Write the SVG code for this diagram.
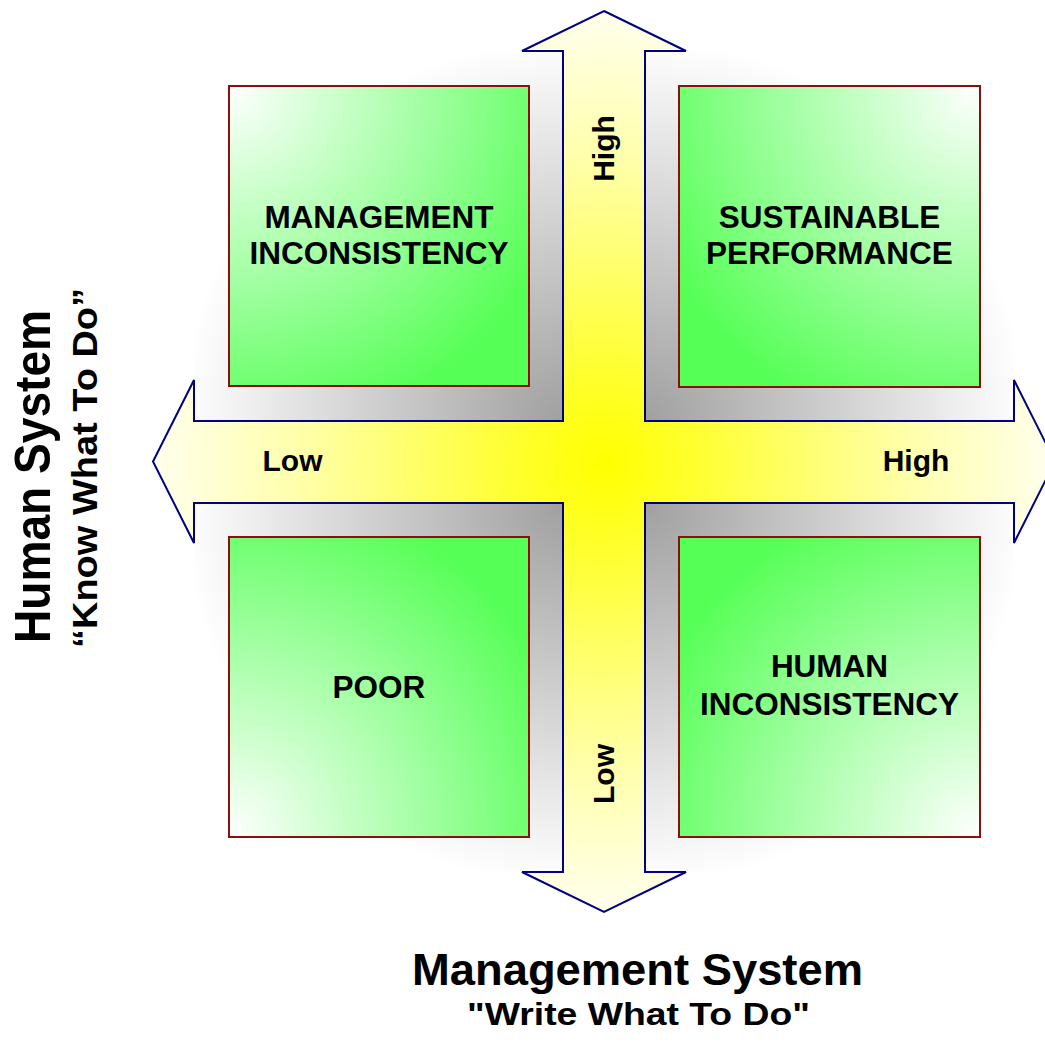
<svg xmlns="http://www.w3.org/2000/svg" width="1045" height="1043" viewBox="0 0 1045 1043">
  <style>
    .lbl { font-family: "Liberation Sans", Arial, Helvetica, sans-serif; font-weight: bold; fill: #000; }
    .box { stroke: #8b0f0f; stroke-width: 2; }
    .axis { stroke: #000080; stroke-width: 2; stroke-linejoin: miter; }
  </style>
  <defs>
    <!-- yellow glow spreading out from the crossing point -->
    <radialGradient id="axisFill" gradientUnits="userSpaceOnUse" cx="604" cy="462" r="460">
      <stop offset="0" stop-color="#ffff00"/>
      <stop offset="0.2" stop-color="#ffff30"/>
      <stop offset="0.65" stop-color="#ffffa8"/>
      <stop offset="1" stop-color="#fffff2"/>
    </radialGradient>
    <!-- grey shading in the corners next to the axes -->
    <radialGradient id="shTL" gradientUnits="userSpaceOnUse" cx="563" cy="421" r="380">
      <stop offset="0" stop-color="#a0a0a0"/>
      <stop offset="1" stop-color="#ffffff"/>
    </radialGradient>
    <radialGradient id="shTR" gradientUnits="userSpaceOnUse" cx="645" cy="421" r="380">
      <stop offset="0" stop-color="#a0a0a0"/>
      <stop offset="1" stop-color="#ffffff"/>
    </radialGradient>
    <radialGradient id="shBL" gradientUnits="userSpaceOnUse" cx="563" cy="503" r="380">
      <stop offset="0" stop-color="#a0a0a0"/>
      <stop offset="1" stop-color="#ffffff"/>
    </radialGradient>
    <radialGradient id="shBR" gradientUnits="userSpaceOnUse" cx="645" cy="503" r="380">
      <stop offset="0" stop-color="#a0a0a0"/>
      <stop offset="1" stop-color="#ffffff"/>
    </radialGradient>
    <!-- quadrant fills: pale at the outer corner, saturated green inward -->
    <radialGradient id="gTL" cx="0" cy="0" r="1.2">
      <stop offset="0" stop-color="#ffffff"/>
      <stop offset="1" stop-color="#55ff55"/>
    </radialGradient>
    <radialGradient id="gTR" cx="1" cy="0" r="1.2">
      <stop offset="0" stop-color="#ffffff"/>
      <stop offset="1" stop-color="#55ff55"/>
    </radialGradient>
    <radialGradient id="gBL" cx="0" cy="1" r="1.2">
      <stop offset="0" stop-color="#ffffff"/>
      <stop offset="1" stop-color="#55ff55"/>
    </radialGradient>
    <radialGradient id="gBR" cx="1" cy="1" r="1.2">
      <stop offset="0" stop-color="#ffffff"/>
      <stop offset="1" stop-color="#55ff55"/>
    </radialGradient>
  </defs>

  <rect width="1045" height="1043" fill="#ffffff"/>

  <!-- corner shading -->
  <g id="shading">
    <rect x="194" y="51" width="369" height="370" fill="url(#shTL)"/>
    <rect x="645" y="51" width="369" height="370" fill="url(#shTR)"/>
    <rect x="194" y="503" width="369" height="369" fill="url(#shBL)"/>
    <rect x="645" y="503" width="369" height="369" fill="url(#shBR)"/>
  </g>

  <!-- four-way axis arrow -->
  <g id="connectors">
    <path class="axis" fill="url(#axisFill)"
          d="M604,11 L686,51 L645,51 L645,421 L1014,421 L1014,380 L1055,461.5 L1014,543 L1014,503 L645,503 L645,872 L686,872 L604,912 L522,872 L563,872 L563,503 L194,503 L194,543 L153,461.5 L194,380 L194,421 L563,421 L563,51 L522,51 Z"/>
  </g>

  <!-- axis scale labels -->
  <g id="axis-labels">
    <text class="lbl" font-size="30" text-anchor="middle" transform="translate(614,148.5) rotate(-90)">High</text>
    <text class="lbl" font-size="30" text-anchor="middle" transform="translate(614,774) rotate(-90)">Low</text>
    <text class="lbl" font-size="30" text-anchor="middle" x="292.5" y="470.5">Low</text>
    <text class="lbl" font-size="30" text-anchor="middle" x="916" y="470.5">High</text>
  </g>

  <!-- quadrants -->
  <g id="q-management-inconsistency">
    <rect class="box" x="229" y="86" width="300" height="300" fill="url(#gTL)"/>
    <text class="lbl" font-size="31.5" text-anchor="middle" x="379" y="228">MANAGEMENT</text>
    <text class="lbl" font-size="31.5" text-anchor="middle" x="379" y="264">INCONSISTENCY</text>
  </g>
  <g id="q-sustainable-performance">
    <rect class="box" x="679" y="86" width="301" height="301" fill="url(#gTR)"/>
    <text class="lbl" font-size="31.5" text-anchor="middle" x="829.5" y="228">SUSTAINABLE</text>
    <text class="lbl" font-size="31.5" text-anchor="middle" x="829.5" y="264">PERFORMANCE</text>
  </g>
  <g id="q-poor">
    <rect class="box" x="229" y="537" width="300" height="300" fill="url(#gBL)"/>
    <text class="lbl" font-size="31.5" text-anchor="middle" x="379" y="698">POOR</text>
  </g>
  <g id="q-human-inconsistency">
    <rect class="box" x="679" y="537" width="301" height="300" fill="url(#gBR)"/>
    <text class="lbl" font-size="31.5" text-anchor="middle" x="829.5" y="677">HUMAN</text>
    <text class="lbl" font-size="31.5" text-anchor="middle" x="829.5" y="715">INCONSISTENCY</text>
  </g>

  <!-- axis titles -->
  <g id="title-management">
    <text class="lbl" font-size="44" text-anchor="middle" x="637.5" y="985" textLength="451" lengthAdjust="spacingAndGlyphs">Management System</text>
    <text class="lbl" font-size="32" text-anchor="middle" x="638.5" y="1025" textLength="343" lengthAdjust="spacingAndGlyphs">"Write What To Do"</text>
  </g>
  <g id="title-human">
    <text class="lbl" font-size="50" text-anchor="middle" transform="translate(50,476.5) rotate(-90)" textLength="333" lengthAdjust="spacingAndGlyphs">Human System</text>
    <text class="lbl" font-size="35" text-anchor="middle" transform="translate(97,468) rotate(-90)" textLength="360" lengthAdjust="spacingAndGlyphs">“Know What To Do”</text>
  </g>
</svg>
